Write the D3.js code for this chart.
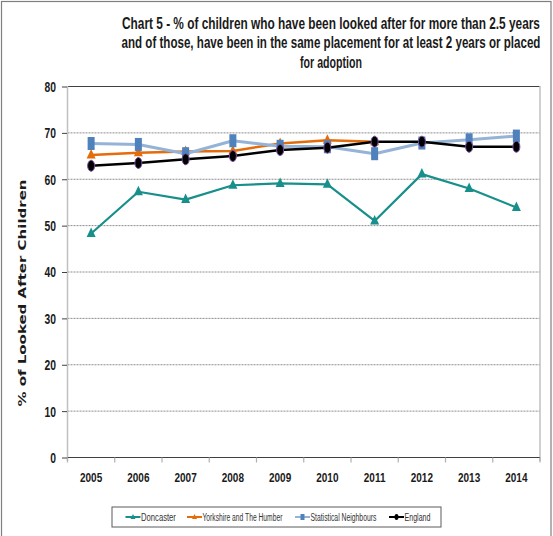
<!DOCTYPE html>
<html><head><meta charset="utf-8">
<script src="https://cdn.jsdelivr.net/npm/d3@7"></script>
<style>body{margin:0;background:#fff}svg{display:block}</style>
</head><body>
<svg id="c" width="553" height="536"></svg>
<script>
const years = ["2005","2006","2007","2008","2009","2010","2011","2012","2013","2014"];
const doncaster = [48.2,57.2,55.5,58.6,59.0,58.8,50.9,61.0,57.9,53.8];
const yorkshire = [65.1,65.6,65.9,66.0,67.6,68.3,68.0,null,null,null];
const statNeighbours = [67.6,67.4,65.4,68.2,67.0,66.9,65.4,67.7,68.4,69.2];
const england = [62.8,63.4,64.2,64.9,66.2,66.7,68.0,68.0,66.9,66.9];
const yTicks = [0,10,20,30,40,50,60,70,80];
const titleLines = ["Chart 5 - % of children who have been looked after for more than 2.5 years",
  "and of those, have been in the same placement for at least 2 years or placed",
  "for adoption"];
const yTitle = "% of Looked After Children";

const svg = d3.select("#c");
const L = 67.5, R = 540, T = 86, B = 457;
const x = d3.scaleBand().domain(years).range([L, R]);
const y = d3.scaleLinear().domain([0, 80]).range([B, T]);
const sans = "'Liberation Sans',Arial,sans-serif";

function condense(sel, k, ax){
  sel.attr("transform", `translate(${ax},0) scale(${k},1) translate(${-ax},0)`);
}
function fitWidth(sel, target, ax){
  const w = sel.node().getComputedTextLength();
  condense(sel, target / w, ax);
}

// outer frame
svg.append("rect").attr("x",1.5).attr("y",1.5).attr("width",549.5).attr("height",560)
  .attr("fill","none").attr("stroke","#7f7f7f").attr("stroke-width",1.2);

// title
const tw = [418, 419, 62];
titleLines.forEach((t,i)=>{
  const s = svg.append("text").attr("x",331).attr("y",29 + i*19.5).attr("text-anchor","middle")
    .attr("font-family",sans).attr("font-weight","bold").attr("font-size",16.5)
    .attr("fill","#1a1a1a").text(t);
  fitWidth(s, tw[i], 331);
});

// gridlines
svg.append("g").selectAll("line").data(yTicks.filter(d=>d>0)).join("line")
  .attr("x1",L).attr("x2",R).attr("y1",d=>y(d)+0.5).attr("y2",d=>y(d)+0.5)
  .attr("stroke",d=>d===80?"#404040":"#8c8c8c").attr("stroke-width",1)
  .attr("stroke-dasharray",d=>d===80?null:"2,1");
svg.append("line").attr("x1",L).attr("x2",L).attr("y1",T).attr("y2",B+4).attr("stroke","#c0c0c0").attr("stroke-width",1.5);
svg.append("line").attr("x1",R).attr("x2",R).attr("y1",T).attr("y2",B+4).attr("stroke","#c0c0c0").attr("stroke-width",1.5);

// y axis
const yAxis = d3.axisLeft(y).tickValues(yTicks).tickSize(5).tickPadding(6);
const gy = svg.append("g").attr("transform",`translate(${L-0.5},0.5)`).call(yAxis);
gy.select(".domain").remove();
gy.selectAll(".tick line").attr("stroke","#404040");
gy.selectAll("text").attr("font-family",sans).attr("font-weight","bold").attr("font-size",14)
  .attr("fill","#1a1a1a").attr("dy","0.35em").attr("x",-11)
  .attr("transform","translate(-11,0) scale(0.74,1) translate(11,0)");

// x axis
const gx = svg.append("g").attr("transform",`translate(0,${B+0.5})`);
gx.append("line").attr("x1",L).attr("x2",R).attr("stroke","#404040").attr("stroke-width",1.2);
gx.selectAll("line.t").data(years.concat(["end"])).join("line").attr("class","t")
  .attr("x1",(d,i)=>L+i*x.step()).attr("x2",(d,i)=>L+i*x.step()).attr("y1",0).attr("y2",5)
  .attr("stroke","#b0b0b0").attr("stroke-width",1.2);
gx.selectAll("text").data(years).join("text")
  .attr("x",d=>x(d)+x.bandwidth()/2).attr("y",24.5).attr("text-anchor","middle")
  .attr("font-family",sans).attr("font-weight","bold").attr("font-size",13.5).attr("fill","#1a1a1a").text(d=>d)
  .each(function(d){ condense(d3.select(this), 0.74, x(d)+x.bandwidth()/2); });

// y title
svg.append("text").attr("transform","translate(26,293) rotate(-90)").attr("text-anchor","middle")
  .attr("font-family","'DejaVu Sans',Verdana,sans-serif").attr("font-weight","bold").attr("font-size",11)
  .attr("fill","#1a1a1a").attr("textLength",227).attr("lengthAdjust","spacingAndGlyphs").text(yTitle);

// series
const series = [
  {name:"Doncaster", vals:doncaster, line:"#178f8a", lw:2.2, marker:"tri", mfill:"#178f8a"},
  {name:"Yorkshire and The Humber", vals:yorkshire, line:"#e46c0a", lw:2.5, marker:"tri", mfill:"#e46c0a"},
  {name:"Statistical Neighbours", vals:statNeighbours, line:"#95b3d7", lw:3, marker:"sq", mfill:"#4f81bd"},
  {name:"England", vals:england, line:"#000000", lw:2.5, marker:"ell", mfill:"#000000"}
];
const cx = i => x(years[i]) + x.bandwidth()/2;
const lineGen = d3.line().defined(d=>d.v!=null).x(d=>cx(d.i)).y(d=>y(d.v));
function drawMarker(g, s, px, py){
  if(s.marker==="tri"){
    g.append("path").attr("d",`M${px},${py-6}L${px+4.5},${py+3.5}L${px-4.5},${py+3.5}Z`).attr("fill",s.mfill);
  } else if(s.marker==="sq"){
    g.append("rect").attr("x",px-3.5).attr("y",py-6.5).attr("width",7).attr("height",13).attr("fill",s.mfill);
  } else {
    g.append("ellipse").attr("cx",px).attr("cy",py).attr("rx",3.5).attr("ry",5.5).attr("fill",s.mfill)
      .attr("stroke","#7a4fa0").attr("stroke-width",1);
  }
}
series.forEach(s=>{
  const pts = s.vals.map((v,i)=>({v,i}));
  const g = svg.append("g");
  g.append("path").datum(pts).attr("d",lineGen).attr("fill","none").attr("stroke",s.line).attr("stroke-width",s.lw).attr("stroke-linejoin","round");
  pts.filter(d=>d.v!=null).forEach(d=>drawMarker(g,s,cx(d.i),y(d.v)));
});

// legend
const lg = svg.append("g");
lg.append("rect").attr("x",112).attr("y",507).attr("width",329).attr("height",20)
  .attr("fill","#fff").attr("stroke","#5a5a5a").attr("stroke-width",1);
const legX = [125.5, 187, 295, 389];
const legW = [35, 80, 66, 26];
series.forEach((s,i)=>{
  const lx = legX[i], ly = 517;
  lg.append("line").attr("x1",lx).attr("x2",lx+15).attr("y1",ly).attr("y2",ly).attr("stroke",s.line).attr("stroke-width",2);
  if(s.marker==="tri") lg.append("path").attr("d",`M${lx+7.5},${ly-3}L${lx+10},${ly+2}L${lx+5},${ly+2}Z`).attr("fill",s.mfill);
  else if(s.marker==="sq") lg.append("rect").attr("x",lx+5.5).attr("y",ly-3).attr("width",4).attr("height",6).attr("fill",s.mfill);
  else lg.append("ellipse").attr("cx",lx+7.5).attr("cy",ly).attr("rx",2).attr("ry",3).attr("fill",s.mfill);
  const t = lg.append("text").attr("x",lx+15.5).attr("y",ly).attr("dy","0.35em")
    .attr("font-family",sans).attr("font-size",11).attr("fill","#333").text(s.name);
  fitWidth(t, legW[i], lx+15.5);
});
</script>
</body></html>
